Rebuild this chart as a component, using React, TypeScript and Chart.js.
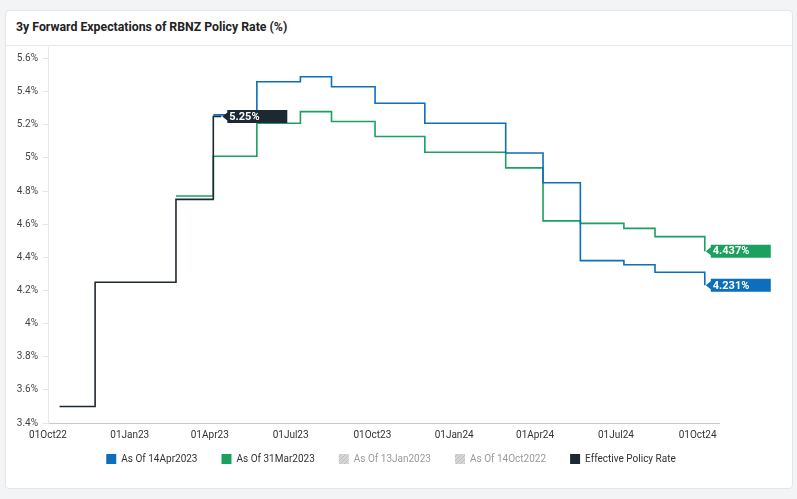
import React, { useEffect, useRef } from 'react';
import { Chart, registerables } from 'chart.js';

Chart.register(...registerables);

const ORIGIN = Date.UTC(2022, 9, 1);
const toDay = (s: string) => (Date.parse(s + 'T00:00:00Z') - ORIGIN) / 86400000;

const xTickDates = ['2022-10-01', '2023-01-01', '2023-04-01', '2023-07-01', '2023-10-01', '2024-01-01', '2024-04-01', '2024-07-01', '2024-10-01'];
const xTickLabels = ['01Oct22', '01Jan23', '01Apr23', '01Jul23', '01Oct23', '01Jan24', '01Apr24', '01Jul24', '01Oct24'];
const xAxisEnd = '2024-10-25';
const yTicks = [3.4, 3.6, 3.8, 4, 4.2, 4.4, 4.6, 4.8, 5, 5.2, 5.4, 5.6];
const yMin = 3.4;
const yMax = 5.67;

const seriesNames = ['As Of 14Apr2023', 'As Of 31Mar2023', 'As Of 13Jan2023', 'As Of 14Oct2022', 'Effective Policy Rate'];
const seriesColors = ['#0b6fbd', '#1ba05f', '#c8c8c8', '#c8c8c8', '#1e2832'];
const seriesHidden = [false, false, true, true, false];

const apr14Dates = ['2023-04-05', '2023-05-24', '2023-07-12', '2023-08-16', '2023-10-04', '2023-11-29', '2024-02-28', '2024-04-10', '2024-05-22', '2024-07-10', '2024-08-14', '2024-10-09'];
const apr14Values = [5.26, 5.46, 5.49, 5.43, 5.33, 5.21, 5.03, 4.85, 4.38, 4.355, 4.31, 4.231];

const mar31Dates = ['2023-02-22', '2023-04-05', '2023-05-24', '2023-07-12', '2023-08-16', '2023-10-04', '2023-11-29', '2024-02-28', '2024-04-10', '2024-05-22', '2024-07-10', '2024-08-14', '2024-10-09'];
const mar31Values = [4.77, 5.01, 5.21, 5.28, 5.22, 5.13, 5.035, 4.94, 4.62, 4.605, 4.575, 4.525, 4.437];

const jan13Dates: string[] = [];
const jan13Values: number[] = [];
const oct14Dates: string[] = [];
const oct14Values: number[] = [];

const policyDates = ['2022-10-14', '2022-11-23', '2023-02-22', '2023-04-05', '2023-04-14'];
const policyValues = [3.5, 4.25, 4.75, 5.25, 5.25];

const FONT = 'Roboto, "Noto Sans", sans-serif';

const toPoints = (dates: string[], values: number[]) => dates.map((d, i) => ({ x: toDay(d), y: values[i] }));

const endLabelPlugin = {
  id: 'endLabels',
  afterDatasetsDraw(chart: any) {
    const ctx = chart.ctx as CanvasRenderingContext2D;
    chart.data.datasets.forEach((ds: any, i: number) => {
      if (!ds.showEndLabel || !chart.isDatasetVisible(i)) return;
      const meta = chart.getDatasetMeta(i);
      const pt = meta.data[meta.data.length - 1];
      if (!pt) return;
      const last = ds.data[ds.data.length - 1].y;
      const text = `${last}%`;
      const x = pt.x;
      const y = pt.y;
      const bx = x + 6;
      const w = 60;
      const h = 13;
      ctx.save();
      ctx.fillStyle = ds.borderColor;
      ctx.beginPath();
      ctx.moveTo(x + 1, y);
      ctx.lineTo(bx, y - 4);
      ctx.lineTo(bx, y - h / 2);
      ctx.lineTo(bx + w, y - h / 2);
      ctx.lineTo(bx + w, y + h / 2);
      ctx.lineTo(bx, y + h / 2);
      ctx.lineTo(bx, y + 4);
      ctx.closePath();
      ctx.fill();
      ctx.fillStyle = '#ffffff';
      ctx.font = `bold 11px ${FONT}`;
      ctx.textAlign = 'left';
      ctx.textBaseline = 'middle';
      ctx.fillText(text, bx + 2, y + 0.5);
      ctx.restore();
    });
  },
};

const legendShiftPlugin = {
  id: 'legendShift',
  afterLayout(chart: any) {
    const lg = chart.legend;
    if (lg) {
      lg.top -= 13;
      lg.bottom -= 13;
    }
  },
};

function makeHatch(): CanvasPattern | string {
  const c = document.createElement('canvas');
  c.width = 4;
  c.height = 4;
  const g = c.getContext('2d');
  if (!g) return '#cccccc';
  g.fillStyle = '#d6d6d6';
  g.fillRect(0, 0, 4, 4);
  g.strokeStyle = '#bdbdbd';
  g.lineWidth = 1;
  g.beginPath();
  g.moveTo(0, 4);
  g.lineTo(4, 0);
  g.stroke();
  const p = g.createPattern(c, 'repeat');
  return p || '#cccccc';
}

export default function App() {
  const ref = useRef<HTMLCanvasElement>(null);

  useEffect(() => {
    if (!ref.current) return;
    const hatch = makeHatch();
    const seriesData = [
      toPoints(apr14Dates, apr14Values),
      toPoints(mar31Dates, mar31Values),
      toPoints(jan13Dates, jan13Values),
      toPoints(oct14Dates, oct14Values),
      toPoints(policyDates, policyValues),
    ];
    const datasets = seriesNames.map((name, i) => ({
      label: name,
      data: seriesData[i],
      borderColor: seriesColors[i],
      backgroundColor: seriesColors[i],
      borderWidth: 1.6,
      pointRadius: 0,
      stepped: 'before' as const,
      fill: false,
      hidden: seriesHidden[i],
      order: i === 4 ? 0 : 1,
      showEndLabel: !seriesHidden[i],
      yAxisID: 'y',
      xAxisID: 'x',
    }));
    const xTickDays = xTickDates.map(toDay);

    const chart = new Chart(ref.current, {
      type: 'line',
      data: { datasets: datasets as any },
      plugins: [endLabelPlugin, legendShiftPlugin],
      options: {
        animation: false,
        responsive: true,
        maintainAspectRatio: false,
        events: [],
        layout: { padding: { top: 1, right: 16, bottom: 1, left: 0 } },
        plugins: {
          tooltip: { enabled: false },
          legend: {
            position: 'bottom',
            onClick: () => {},
            labels: {
              boxWidth: 10,
              boxHeight: 10,
              padding: 24,
              font: { family: FONT, size: 10 },
              color: '#333333',
              generateLabels: (c: any) =>
                c.data.datasets.map((ds: any, i: number) => {
                  const muted = seriesHidden[i];
                  return {
                    text: ds.label,
                    fillStyle: muted ? hatch : ds.borderColor,
                    strokeStyle: muted ? hatch : ds.borderColor,
                    lineWidth: 0,
                    hidden: false,
                    fontColor: muted ? '#9a9a9a' : '#333333',
                    datasetIndex: i,
                  };
                }),
            },
          },
        },
        scales: {
          x: {
            type: 'linear',
            min: 0,
            max: toDay(xAxisEnd),
            grid: { display: false, drawTicks: false },
            border: { display: true, color: '#c5cad1', width: 1 },
            afterBuildTicks: (scale: any) => {
              scale.ticks = xTickDays.map((v) => ({ value: v }));
            },
            afterFit: (scale: any) => {
              scale.height = 20;
              scale.paddingLeft = 0;
              scale.paddingRight = 0;
            },
            ticks: {
              autoSkip: false,
              maxRotation: 0,
              padding: 6,
              color: '#333333',
              font: { family: FONT, size: 10 },
              callback: (v: any) => {
                const idx = xTickDays.indexOf(Number(v));
                return idx >= 0 ? xTickLabels[idx] : '';
              },
            },
          },
          y: {
            type: 'linear',
            position: 'left',
            min: yMin,
            max: yMax,
            grid: { drawOnChartArea: false, drawTicks: true, tickLength: 5, color: '#e3e5e8' },
            border: { display: true, color: '#e6e8eb', width: 1 },
            afterBuildTicks: (scale: any) => {
              scale.ticks = yTicks.map((v) => ({ value: v }));
            },
            afterFit: (scale: any) => {
              scale.width = 42;
              scale.paddingTop = 0;
              scale.paddingBottom = 0;
            },
            ticks: {
              padding: 5,
              color: '#444444',
              font: { family: FONT, size: 10 },
              callback: (v: any) => `${Math.round(Number(v) * 10) / 10}%`,
            },
          },
          labelSpace: {
            type: 'linear',
            position: 'right',
            display: true,
            grid: { display: false, drawTicks: false },
            border: { display: false },
            ticks: { display: false },
            afterFit: (scale: any) => {
              scale.width = 57;
              scale.paddingTop = 0;
              scale.paddingBottom = 0;
            },
          },
        },
      },
    } as any);
    return () => chart.destroy();
  }, []);

  return (
    <div style={{ position: 'fixed', left: 0, top: 0, width: 797, height: 499, background: '#f3f4f6', fontFamily: FONT }}>
      <div
        style={{
          position: 'absolute',
          left: 5,
          top: 10,
          width: 786,
          height: 477,
          background: '#ffffff',
          border: '1px solid #e3e5e8',
          borderRadius: 4,
        }}
      >
        <div
          style={{
            position: 'absolute',
            left: 10,
            top: 9,
            fontSize: 12.3,
            lineHeight: '14px',
            fontWeight: 700,
            color: '#222222',
            whiteSpace: 'nowrap',
          }}
        >
          3y Forward Expectations of RBNZ Policy Rate (%)
        </div>
        <div style={{ position: 'absolute', left: 0, right: 0, top: 34, borderTop: '1px solid #e5e7eb' }} />
        <div style={{ position: 'absolute', left: 0, top: 35, width: 786, height: 442 }}>
          <canvas ref={ref} />
        </div>
      </div>
    </div>
  );
}
